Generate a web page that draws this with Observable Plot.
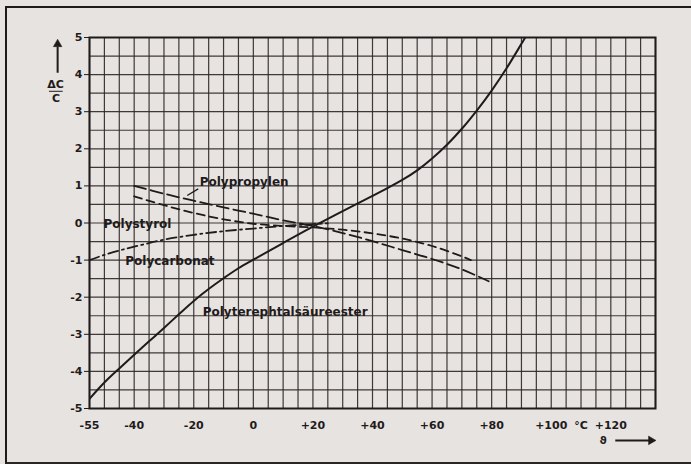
<!DOCTYPE html>
<html>
<head>
<meta charset="utf-8">
<script src="https://cdn.jsdelivr.net/npm/d3@7"></script>
<script src="https://cdn.jsdelivr.net/npm/@observablehq/plot@0.6"></script>
<style>
html,body{margin:0;padding:0;background:#e7e3e0;}
#wrap{position:relative;width:691px;height:464px;overflow:hidden;background:#e7e3e0;}
#border{position:absolute;left:5px;top:6px;width:720px;height:454px;border-left:2px solid #1f1b1b;border-top:2px solid #1f1b1b;border-bottom:2px solid #2a2626;}
#wrap svg{position:absolute;left:0;top:0;}
</style>
</head>
<body>
<div id="wrap"><div id="border"></div></div>
<script>
// Polyterephtalsäureester (solid)
const petTemp = [-55,-50,-45,-40,-35,-30,-25,-20,-15,-10,-5,0,10,20,30,40,45,50,55,60,65,70,75,80,85,90,92];
const petValue = [-4.74,-4.3,-3.92,-3.55,-3.19,-2.83,-2.46,-2.1,-1.78,-1.49,-1.22,-0.99,-0.54,-0.1,0.32,0.73,0.94,1.16,1.42,1.74,2.11,2.54,3.03,3.57,4.17,4.83,5.1];
// Polypropylen (long dashes)
const ppTemp = [-40,-30,-20,-10,0,10,20,30,40,50,60,70,79];
const ppValue = [1.0,0.79,0.6,0.42,0.25,0.07,-0.08,-0.27,-0.49,-0.73,-0.97,-1.25,-1.57];
// Polystyrol (dashes)
const psTemp = [-40,-30,-20,-10,0,10,20,30,40,50,60,70,73];
const psValue = [0.72,0.48,0.27,0.1,-0.02,-0.08,-0.12,-0.18,-0.28,-0.42,-0.62,-0.9,-1.0];
// Polycarbonat (dash-dot)
const pcTemp = [-55,-50,-45,-40,-30,-20,-10,0,10,20,25];
const pcValue = [-1.0,-0.86,-0.74,-0.64,-0.45,-0.32,-0.22,-0.15,-0.08,-0.03,-0.01];

const seriesNames = ["Polypropylen","Polystyrol","Polycarbonat","Polyterephtalsäureester"];

const xTicks = [-55,-40,-20,0,20,40,60,80,100,110,120];
const xTickLabels = ["-55","-40","-20","0","+20","+40","+60","+80","+100","°C","+120"];
const yTicks = [5,4,3,2,1,0,-1,-2,-3,-4,-5];
const yTickLabels = ["5","4","3","2","1","0","-1","-2","-3","-4","-5"];

const toRows = (ts, vs) => ts.map((t, i) => ({t, v: vs[i]}));
const pet = toRows(petTemp, petValue);
const pp = toRows(ppTemp, ppValue);
const ps = toRows(psTemp, psValue);
const pc = toRows(pcTemp, pcValue);

const ink = "#1f1b1b";
const gridInk = "#2c2626";

const chart = Plot.plot({
  width: 691,
  height: 464,
  marginLeft: 89,
  marginRight: 36,
  marginTop: 37,
  marginBottom: 56,
  x: {domain: [-55, 135], label: null},
  y: {domain: [-5, 5], label: null},
  style: {background: "transparent", fontFamily: "DejaVu Sans", fontWeight: "bold", fontSize: "11px", color: ink, overflow: "visible"},
  marks: [
    Plot.ruleX(d3.range(-55, 136, 5), {stroke: gridInk, strokeWidth: 1.2, strokeOpacity: 0.9}),
    Plot.ruleY(d3.range(-5, 5.01, 0.5), {stroke: gridInk, strokeWidth: 1.2, strokeOpacity: 0.9}),
    Plot.frame({stroke: ink, strokeWidth: 2}),
    Plot.axisY({ticks: yTicks, tickFormat: d => yTickLabels[yTicks.indexOf(d)], tickSize: 5, tickPadding: 2, stroke: ink}),
    Plot.axisX({ticks: xTicks, tickFormat: d => xTickLabels[xTicks.indexOf(d)], tickSize: 0, tickPadding: 13}),
    // curves
    Plot.line(pet, {x: "t", y: "v", stroke: ink, strokeWidth: 2, curve: "catmull-rom", clip: "frame"}),
    Plot.line(pp, {x: "t", y: "v", stroke: ink, strokeWidth: 1.8, strokeDasharray: "12,5", curve: "catmull-rom"}),
    Plot.line(ps, {x: "t", y: "v", stroke: ink, strokeWidth: 1.8, strokeDasharray: "8,5", curve: "catmull-rom"}),
    Plot.line(pc, {x: "t", y: "v", stroke: ink, strokeWidth: 1.8, strokeDasharray: "10,4,2,4", curve: "catmull-rom"}),
    // series labels
    Plot.text([seriesNames[0]], {x: -18, y: 1.1, text: d => d, textAnchor: "start", fontSize: 12, fill: ink}),
    Plot.link([0], {x1: -18.5, y1: 0.92, x2: -22.2, y2: 0.74, stroke: ink, strokeWidth: 1.3}),
    Plot.text([seriesNames[1]], {x: -50.3, y: -0.03, text: d => d, textAnchor: "start", fontSize: 12, fill: ink}),
    Plot.text([seriesNames[2]], {x: -43, y: -1.03, text: d => d, textAnchor: "start", fontSize: 12, fill: ink}),
    Plot.text([seriesNames[3]], {x: -17, y: -2.4, text: d => d, textAnchor: "start", fontSize: 12, fill: ink}),
    // y-axis label ΔC / C with arrow
    Plot.link([0], {x1: -65.7, y1: 4.05, x2: -65.7, y2: 4.75, stroke: ink, strokeWidth: 2}),
    Plot.dot([0], {x: -65.7, y: 4.82, symbol: "triangle", r: 3.2, fill: ink, stroke: ink, strokeWidth: 0.5}),
    Plot.text(["ΔC"], {x: -66.4, y: 3.73, text: d => d, fontSize: 11, fill: ink}),
    Plot.link([0], {x1: -68.6, y1: 3.55, x2: -64.0, y2: 3.55, stroke: ink, strokeWidth: 1}),
    Plot.text(["C"], {x: -66.2, y: 3.36, text: d => d, fontSize: 11, fill: ink}),
    // x-axis label ϑ with arrow
    Plot.text(["ϑ"], {x: 117.4, y: -5.86, text: d => d, fontSize: 11, fill: ink}),
    Plot.link([0], {x1: 121.5, y1: -5.86, x2: 133, y2: -5.86, stroke: ink, strokeWidth: 2}),
    Plot.dot([0], {x: 133.5, y: -5.86, symbol: "triangle", rotate: 90, r: 3.2, fill: ink, stroke: ink, strokeWidth: 0.5})
  ]
});
document.getElementById("wrap").appendChild(chart);
</script>
</body>
</html>
